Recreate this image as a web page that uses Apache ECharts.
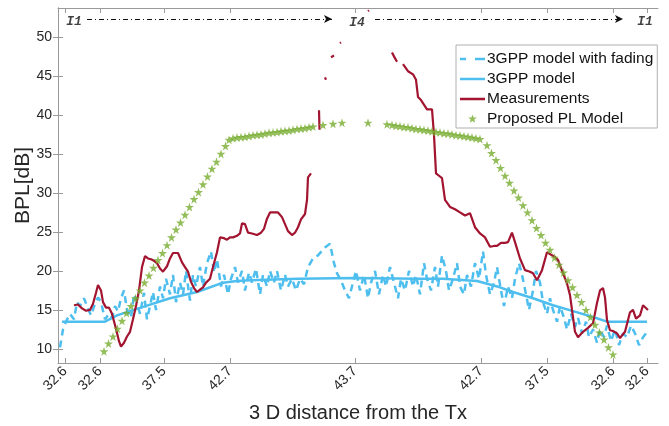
<!DOCTYPE html>
<html><head><meta charset="utf-8">
<script src="https://cdn.jsdelivr.net/npm/echarts@6/dist/echarts.min.js"></script>
<style>html,body{margin:0;padding:0;background:#fff}#c{width:669px;height:426px}</style>
</head><body><div id="c"></div>
<script>
// x unit: position along the route (sample position), tick labels show 3D distance
const tickPos = [7, 42, 106, 172, 297, 423, 489, 555, 589];
const tickLabels = ['32.6','32.6','37.5','42.7','43.7','42.7','37.5','32.6','32.6'];
const yTicks = [10,15,20,25,30,35,40,45,50];

const modelX = [4,47,59,85,112,139,165,179,192,240,297,360,385,419,442,455,475,495,515,535,549,589];
const modelY = [13.5,13.5,14.3,15.4,16.5,17.3,18.5,18.7,18.8,19.0,19.1,19.0,19.0,18.7,17.9,17.3,16.5,15.6,14.85,14.1,13.5,13.5];

const fadingX = [2,5,8,12,16,19,22,26,30,33,37,40,43,47,51,54,57,60,63,66,69,73,76,79,82,86,89,92,95,98,102,105,108,112,115,118,122,125,128,132,135,138,142,145,149,153,156,159,163,166,170,173,177,180,184,187,191,194,198,202,205,209,212,216,219,223,227,230,234,238,242,246,250,255,260,267,272,276,279,283,287,291,295,298,302,306,310,313,317,321,325,328,332,336,340,343,347,351,355,358,362,366,369,373,377,380,384,388,391,395,399,402,406,409,413,417,421,425,428,432,436,439,443,446,450,454,457,461,464,468,471,475,478,482,485,489,492,495,499,502,506,509,513,517,520,524,528,531,535,539,542,546,549,553,557,561,565,569,573,577,581,585,588];
const fadingY = [10.2,12.5,13.5,14.5,13.8,16.0,15.5,16.5,15.2,14.3,15.8,16.6,16.0,13.8,14.5,14.0,15.5,14.8,16.5,17.5,15.0,14.0,17.0,16.0,14.5,17.2,13.8,15.5,17.3,15.0,18.0,16.5,19.0,17.0,19.5,16.0,18.5,17.0,20.0,16.2,19.5,18.0,20.5,18.0,21.0,22.5,19.8,21.5,18.0,19.5,17.0,19.0,20.5,18.5,20.0,17.5,19.8,18.5,20.3,17.0,19.5,18.0,20.0,18.5,20.0,17.5,19.5,18.0,19.0,17.5,19.0,18.3,20.5,21.6,22.0,23.0,23.5,21.0,19.7,18.8,17.5,16.5,18.5,20.0,17.5,19.5,16.5,18.5,20.0,17.0,19.5,18.0,20.5,18.5,16.5,19.0,17.5,20.0,18.0,19.5,17.0,21.0,19.0,17.5,20.5,18.0,22.0,20.0,17.5,19.0,21.0,18.0,17.0,19.5,18.0,21.0,19.0,22.5,19.5,17.0,18.5,20.5,17.5,15.5,18.0,16.5,19.0,21.0,19.5,17.0,15.0,17.5,20.0,18.5,16.0,14.5,16.5,15.0,13.5,15.5,14.0,12.5,14.5,12.8,14.0,12.0,13.5,11.5,12.5,10.8,12.5,11.5,13.0,11.0,12.5,10.5,12.0,11.5,13.0,12.0,10.5,11.5,12.0];

const measX = [16,20,24,28,32,35,38,40,43,45,48,51,54,58,61,63,66,69,72,75,78,81,84,87,90,93,96,99,102,105,109,112,115,120,124,127,130,133,136,139,142,145,148,152,155,159,162,166,169,172,175,179,182,184,187,190,194,199,203,206,209,212,216,220,224,227,230,234,237,240,243,245,247,249,250,253,null,261,261.5,null,267,268,null,273,276,null,282,283,null,310,311,null,334,336,339,null,345,350,355,358,360,363,365,369,374,376,378,381,384,387,392,397,402,407,409,412,417,422,427,432,436,439,443,447,450,454,457,462,467,472,475,479,484,489,494,497,500,505,509,512,514,517,520,525,530,535,539,542,545,547,549,552,555,559,562,567,572,575,578,582,585,587,590];
const measY = [15.6,15.7,15.2,14.9,15.0,15.8,17.2,18.2,17.5,16.0,15.3,15.3,14.5,12.6,11.0,10.3,10.8,11.6,12.2,13.8,15.5,17.5,20.5,21.9,21.6,21.5,21.3,21.0,20.3,19.9,20.6,21.6,22.3,22.3,21.1,20.5,19.9,18.6,17.8,17.3,17.6,17.9,18.5,19.0,20.5,22.4,24.3,24.2,24.0,24.3,24.3,24.5,24.8,26.1,26.0,24.9,24.8,24.6,24.9,25.4,26.7,27.5,27.5,27.5,26.9,26.0,25.1,24.6,24.9,25.6,26.6,26.6,27.3,29.1,32.0,32.5,null,40.6,38.1,null,44.8,44.5,null,47.4,47.6,null,49.2,49.3,null,53.3,53.4,null,48.0,47.5,46.8,null,46.5,45.6,45.2,44.5,42.3,41.9,41.8,40.7,40.7,37.4,32.5,32.2,31.9,29.1,28.2,27.9,27.5,27.1,27.1,27.4,25.6,24.8,24.3,23.1,23.2,23.2,23.6,23.6,23.7,24.9,23.7,21.6,20.1,19.9,19.7,18.8,20.1,22.4,22.0,21.8,21.4,19.7,18.4,16.9,15.0,12.2,11.5,12.2,12.7,13.3,15.9,17.5,17.8,16.6,13.7,12.4,12.3,12.0,11.4,12.2,14.7,15.0,13.9,14.3,15.6,15.4,15.0];

const plX = [46,50.5,55,59.5,64,68.5,73,77.5,82,86.5,91,95.5,100,104.5,109,113.5,118,122.5,127,131.5,136,140.5,145,149.5,154,158.5,163,167.5,171,
  175,179,183,187,191,195,199,203,207,211,215,219,223,227,231,235,239,243,247,251,255,265,275,284,
  310,329,334,338,342,346,350,354,358,362,366,370,374,378,382,386,390,394,398,402,406,410,414,418,422,
  429,433.5,438,442.5,447,451.5,456,460.5,465,469.5,474,478.5,483,487.5,492,496.5,501,505.5,510,514.5,519,523.5,528,532.5,537,541.5,546,550.5,555];
const plY = [9.7,10.7,11.6,12.6,13.6,14.6,15.5,16.5,17.5,18.5,19.4,20.4,21.4,22.3,23.3,24.3,25.3,26.2,27.2,28.2,29.2,30.1,31.1,32.1,33.1,34.0,35.0,36.0,36.8,
  37.0,37.1,37.15,37.2,37.3,37.4,37.45,37.5,37.6,37.7,37.75,37.8,37.9,37.95,38.0,38.1,38.2,38.25,38.3,38.4,38.5,38.7,38.85,39.0,
  39.0,38.8,38.7,38.6,38.55,38.45,38.4,38.3,38.2,38.15,38.05,38.0,37.9,37.8,37.75,37.65,37.6,37.5,37.4,37.35,37.25,37.2,37.1,37.0,36.9,
  36.1,35.1,34.2,33.2,32.2,31.3,30.3,29.4,28.4,27.5,26.5,25.5,24.6,23.6,22.7,21.7,20.8,19.8,18.8,17.9,16.9,16.0,15.0,14.1,13.1,12.1,11.2,10.2,9.3];

// route annotations (I1 -> I4 -> I1)
const segLabels = [['I1', 16, 52.0], ['I4', 299, 51.8], ['I1', 587, 52.0]];
const segArrows = [[29, 274, 52.3], [317, 565, 52.3]];

function zip(xs, ys){ return xs.map((x,i)=> (x===null||ys[i]===null) ? [null,null] : [x, ys[i]]); }

const star = 'path://M50,0 L61,35 L98,35 L68,57 L79,91 L50,70 L21,91 L32,57 L2,35 L39,35 Z';
// legend icons drawn in a 25x10 box (corner points keep the box size)
const box = ' M0,0 L0.01,0 M24.99,10 L25,10';
const iconSolid = 'path://M0,3.8 L25,3.8 L25,6.2 L0,6.2 Z' + box;
const iconDash = 'path://M0,3.8 L6,3.8 L6,6.2 L0,6.2 Z M15,3.8 L25,3.8 L25,6.2 L15,6.2 Z' + box;
const iconStar = 'path://M12.5,0.6 L13.62,3.46 L16.78,3.61 L14.31,5.59 L15.15,8.64 L12.5,6.9 L9.85,8.64 L10.69,5.59 L8.22,3.61 L11.38,3.46 Z' + box;
const blue = '#4DBEEE', red = '#A2142F', green = '#77AC30';
const axisCol = '#9a9a9a', txtCol = '#262626';
const font = 'Liberation Sans, Arial, sans-serif';

const chart = echarts.init(document.getElementById('c'), null, {renderer:'canvas'});
chart.setOption({
  animation:false,
  textStyle:{fontFamily:font},
  grid:{left:58, right:11, top:8, bottom:63, containLabel:false, outerBoundsMode:'none'},
  xAxis:[{
    type:'value', min:0, max:600, position:'bottom',
    name:'3 D distance from the Tx', nameLocation:'middle', nameGap:40, nameMoveOverlap:false,
    nameTextStyle:{fontSize:20, color:txtCol, fontFamily:font},
    axisLine:{lineStyle:{color:axisCol}},
    axisTick:{inside:true, length:5, customValues:tickPos, lineStyle:{color:axisCol}},
    axisLabel:{customValues:tickPos, rotate:45, fontSize:14, color:txtCol, margin:6,
      formatter:(v)=>{const i=tickPos.indexOf(v); return i>=0?tickLabels[i]:'';}},
    splitLine:{show:false}
  },{
    type:'value', min:0, max:600, position:'top',
    axisLine:{lineStyle:{color:axisCol}},
    axisTick:{inside:true, length:5, customValues:tickPos, lineStyle:{color:axisCol}},
    axisLabel:{show:false}, splitLine:{show:false}
  }],
  yAxis:[{
    type:'value', min:8.2, max:53.7, position:'left',
    name:'BPL[dB]', nameLocation:'middle', nameGap:24, nameMoveOverlap:false,
    nameTextStyle:{fontSize:21, color:txtCol, fontFamily:font},
    axisLine:{show:true, lineStyle:{color:axisCol}},
    axisTick:{show:true, inside:true, length:5, customValues:yTicks, lineStyle:{color:axisCol}},
    axisLabel:{customValues:yTicks, fontSize:14, color:txtCol, margin:6},
    splitLine:{show:false}
  },{
    type:'value', min:8.2, max:53.7, position:'right',
    axisLine:{show:true, lineStyle:{color:axisCol}},
    axisTick:{show:true, inside:true, length:5, customValues:yTicks, lineStyle:{color:axisCol}},
    axisLabel:{show:false}, splitLine:{show:false}
  }],
  legend:{
    orient:'vertical', left:456, top:45, itemWidth:25, itemHeight:10, itemGap:4,
    padding:[6,4,1,4], borderColor:'#b0b0b0', borderWidth:1, backgroundColor:'#fff',
    itemStyle:{borderWidth:0},
    textStyle:{fontSize:15.5, color:'#111', fontFamily:font, padding:[0,0,0,-3]},
    data:[
      {name:'3GPP model with fading', icon:iconDash},
      {name:'3GPP model', icon:iconSolid},
      {name:'Measurements', icon:iconSolid},
      {name:'Proposed PL Model', icon:iconStar}
    ]
  },
  series:[
    {name:'3GPP model with fading', type:'line', data:zip(fadingX,fadingY), showSymbol:false, symbol:'none',
     lineStyle:{color:blue, width:2.5, type:[7,5]}, itemStyle:{color:blue}, z:2},
    {name:'3GPP model', type:'line', data:zip(modelX,modelY), showSymbol:false, symbol:'none',
     lineStyle:{color:blue, width:2.5}, itemStyle:{color:blue}, z:3},
    {name:'Measurements', type:'line', data:zip(measX,measY), showSymbol:false, symbol:'none', connectNulls:false,
     lineStyle:{color:red, width:2.2}, itemStyle:{color:red}, z:4},
    {name:'Proposed PL Model', type:'scatter', data:zip(plX,plY), symbol:star, symbolSize:9,
     itemStyle:{color:green}, z:5},
    {name:'annot', type:'scatter', data:segLabels.map(d=>({value:[d[1],d[2]], name:d[0]})),
     symbolSize:0, silent:true,
     label:{show:true, position:'inside', formatter:(p)=>p.name, fontFamily:'Liberation Mono, DejaVu Sans Mono, monospace',
       fontWeight:'bold', fontStyle:'italic', fontSize:13, color:'#111'},
     markLine:{silent:true, symbol:['none','arrow'], symbolSize:[6,8],
       lineStyle:{color:'#111', width:1, type:[5,3,1,3]}, label:{show:false},
       data:segArrows.map(a=>[{coord:[a[0],a[2]]},{coord:[a[1],a[2]]}])}
    }
  ]
});
</script></body></html>
